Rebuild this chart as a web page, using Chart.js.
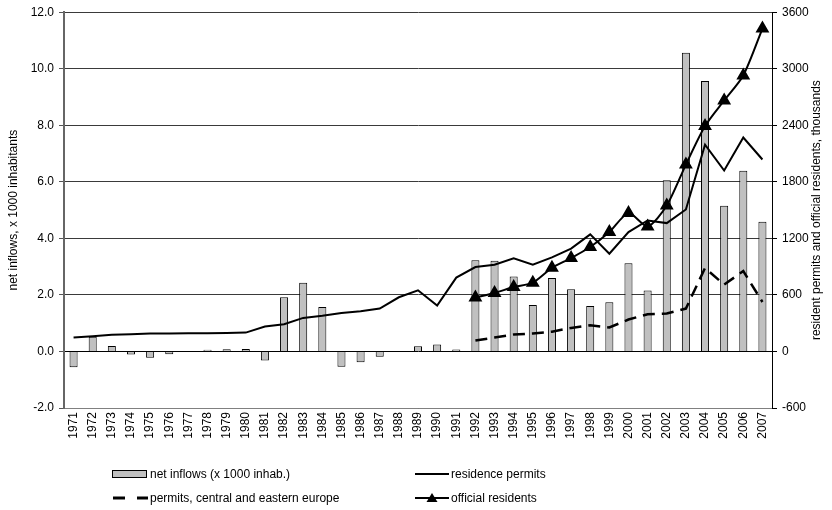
<!DOCTYPE html>
<html>
<head>
<meta charset="utf-8">
<script src="https://cdn.jsdelivr.net/npm/chart.js@4"></script>
<style>
  html, body { margin: 0; padding: 0; background: #fff; }
  #wrap { position: relative; width: 832px; height: 510px; font-family: "Liberation Sans", Arial, sans-serif; }
  canvas { position: absolute; left: 0; top: 0; }
  .leg { position: absolute; font-size: 12px; color: #000; display: flex; align-items: center; white-space: nowrap; }
  .leg svg { margin-right: 2px; }
</style>
</head>
<body>
<div id="wrap">
  <canvas id="c" width="832" height="510"></canvas>
  <div class="leg" style="left:112px; top:467px;"><svg width="36" height="10"><rect x="0.5" y="1.5" width="34" height="7" fill="#c0c0c0" stroke="#000" stroke-width="1"/></svg>net inflows (x 1000 inhab.)</div>
  <div class="leg" style="left:415px; top:467px;"><svg width="34" height="10"><line x1="0" y1="5" x2="34" y2="5" stroke="#000" stroke-width="2"/></svg>residence permits</div>
  <div class="leg" style="left:112px; top:491px;"><svg width="36" height="10"><line x1="1" y1="5" x2="13" y2="5" stroke="#000" stroke-width="3"/><line x1="25" y1="5" x2="36" y2="5" stroke="#000" stroke-width="3"/></svg>permits, central and eastern europe</div>
  <div class="leg" style="left:415px; top:491px;"><svg width="34" height="12"><line x1="0" y1="6" x2="34" y2="6" stroke="#000" stroke-width="2"/><polygon points="17,1 22.5,10 11.5,10" fill="#000"/></svg>official residents</div>
</div>
<script>
const years = ["1971","1972","1973","1974","1975","1976","1977","1978","1979","1980","1981","1982","1983","1984","1985","1986","1987","1988","1989","1990","1991","1992","1993","1994","1995","1996","1997","1998","1999","2000","2001","2002","2003","2004","2005","2006","2007"];

const netInflows = [-0.56,0.52,0.19,-0.11,-0.22,-0.10,0,0.06,0.08,0.09,-0.32,1.92,2.43,1.57,-0.54,-0.38,-0.19,0,0.18,0.25,0.07,3.23,3.21,2.65,1.64,2.60,2.20,1.61,1.74,3.12,2.16,6.06,10.57,9.57,5.15,6.39,4.59];

const residencePermits = [148,162,176,183,190,190,192,193,195,200,265,289,356,378,409,427,455,575,649,487,784,896,921,988,921,998,1091,1242,1037,1267,1390,1362,1507,2195,1920,2270,2037];

const permitsCEE = [null,null,null,null,null,null,null,null,null,null,null,null,null,null,null,null,null,null,null,null,null,116,148,180,190,210,250,278,254,339,395,402,455,885,709,853,525];

const officialResidents = [null,null,null,null,null,null,null,null,null,null,null,null,null,null,null,null,null,null,null,null,null,572,621,684,730,887,991,1108,1267,1468,1327,1549,1983,2392,2664,2929,3426];

const leftTicks = { min: -2, max: 12, step: 2 };
const rightTicks = { min: -600, max: 3600, step: 600 };
const rightTitle = 'resident permits and official residents, thousands';

const FONT = "'Liberation Sans', Arial, sans-serif";

const rightTitlePlugin = {
  id: 'rightTitle',
  afterDraw(chart) {
    const ctx = chart.ctx;
    const a = chart.chartArea;
    ctx.save();
    ctx.translate(817, (a.top + a.bottom) / 2);
    ctx.rotate(-Math.PI / 2);
    ctx.font = "12px " + FONT;
    ctx.fillStyle = '#000';
    ctx.textAlign = 'center';
    ctx.textBaseline = 'middle';
    ctx.fillText(rightTitle, 0, 0);
    ctx.restore();
  }
};

new Chart(document.getElementById('c'), {
  data: {
    labels: years,
    datasets: [
      {
        type: 'line', label: 'residence permits', data: residencePermits, yAxisID: 'y2',
        borderColor: '#000', borderWidth: 2, pointRadius: 0, tension: 0, order: 1
      },
      {
        type: 'line', label: 'permits, central and eastern europe', data: permitsCEE, yAxisID: 'y2',
        borderColor: '#000', borderWidth: 2.5, borderDash: [12, 7], pointRadius: 0, tension: 0, order: 1
      },
      {
        type: 'line', label: 'official residents', data: officialResidents, yAxisID: 'y2',
        borderColor: '#000', borderWidth: 2, pointStyle: 'triangle', pointRadius: 6,
        pointBackgroundColor: '#000', pointBorderColor: '#000', tension: 0.25, order: 1
      },
      {
        type: 'bar', label: 'net inflows (x 1000 inhab.)', data: netInflows, yAxisID: 'y',
        backgroundColor: '#c0c0c0', borderColor: '#000', borderWidth: 1,
        barPercentage: 0.42, categoryPercentage: 1.0, order: 10
      }
    ]
  },
  options: {
    responsive: false,
    animation: false,
    events: [],
    layout: { padding: { top: 11, bottom: 62, left: 0, right: 0 } },
    plugins: { legend: { display: false }, tooltip: { enabled: false } },
    scales: {
      x: {
        type: 'category',
        grid: { display: false, drawTicks: false },
        border: { display: true, color: '#808080', width: 1 },
        ticks: { color: '#000', font: { family: FONT, size: 12 }, minRotation: 90, maxRotation: 90, autoSkip: false, padding: 4 },
        afterFit: s => { s.height = 40; }
      },
      y: {
        position: 'left',
        min: leftTicks.min, max: leftTicks.max,
        ticks: { stepSize: leftTicks.step, color: '#000', font: { family: FONT, size: 12 }, padding: 5,
                 callback: v => Number(v).toFixed(1) },
        grid: { color: ctx => ctx.tick && ctx.tick.value === 0 ? '#000' : '#3a3a3a', lineWidth: 1, tickLength: 5, tickColor: '#555' },
        border: { display: true, color: '#666', width: 2 },
        title: { display: true, text: 'net inflows, x 1000 inhabitants', color: '#000', font: { family: FONT, size: 12 }, padding: { top: 6, bottom: 0 } },
        afterFit: s => { s.width = 64; }
      },
      y2: {
        position: 'right',
        min: rightTicks.min, max: rightTicks.max,
        ticks: { stepSize: rightTicks.step, color: '#000', font: { family: FONT, size: 12 }, padding: 5,
                 callback: v => String(v) },
        grid: { drawOnChartArea: false, tickLength: 5, tickColor: '#000' },
        border: { display: true, color: '#000', width: 1 },
        title: { display: false },
        afterFit: s => { s.width = 60; }
      }
    }
  },
  plugins: [rightTitlePlugin]
});
</script>
</body>
</html>
